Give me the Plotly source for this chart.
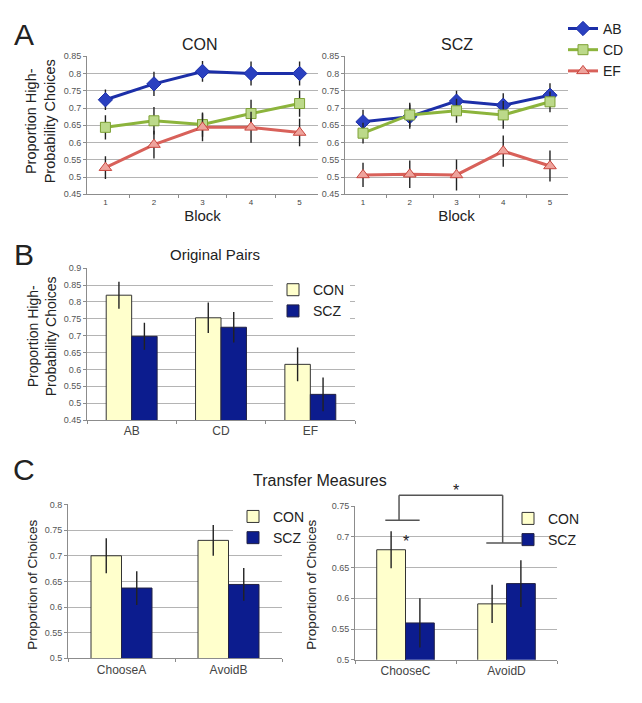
"""Learning curves and transfer measures, CON vs SCZ (three-panel figure)."""

import plotly.graph_objects as go

W, H = 642, 703

# ---- data -------------------------------------------------------------
blocks = ["1", "2", "3", "4", "5"]

con_ab = [0.724, 0.770, 0.806, 0.800, 0.800]
con_cd = [0.644, 0.663, 0.652, 0.684, 0.713]
con_ef = [0.527, 0.594, 0.644, 0.644, 0.629]
con_ab_err = [0.030, 0.035, 0.030, 0.035, 0.035]
con_cd_err = [0.035, 0.040, 0.035, 0.040, 0.038]
con_ef_err = [0.033, 0.040, 0.040, 0.045, 0.040]

scz_ab = [0.660, 0.675, 0.720, 0.708, 0.737]
scz_cd = [0.627, 0.680, 0.692, 0.680, 0.718]
scz_ef = [0.506, 0.508, 0.506, 0.575, 0.532]
scz_ab_err = [0.035, 0.035, 0.030, 0.035, 0.035]
scz_cd_err = [0.030, 0.035, 0.035, 0.040, 0.030]
scz_ef_err = [0.035, 0.040, 0.045, 0.045, 0.045]

pairs = ["AB", "CD", "EF"]
pairs_con = [0.820, 0.753, 0.615]
pairs_scz = [0.698, 0.725, 0.526]
pairs_con_err = [0.040, 0.045, 0.050]
pairs_scz_err = [0.040, 0.045, 0.050]

transfer_a = ["ChooseA", "AvoidB"]
transfer_a_con = [0.700, 0.730]
transfer_a_scz = [0.637, 0.644]
transfer_a_con_err = [0.034, 0.030]
transfer_a_scz_err = [0.033, 0.032]

transfer_c = ["ChooseC", "AvoidD"]
transfer_c_con = [0.679, 0.591]
transfer_c_scz = [0.560, 0.624]
transfer_c_con_err = [0.030, 0.031]
transfer_c_scz_err = [0.040, 0.038]

ticks_a = [0.45, 0.5, 0.55, 0.6, 0.65, 0.7, 0.75, 0.8, 0.85]
ticks_b = [0.45, 0.5, 0.55, 0.6, 0.65, 0.7, 0.75, 0.8, 0.85, 0.9]
ticks_c1 = [0.5, 0.55, 0.6, 0.65, 0.7, 0.75, 0.8]
ticks_c2 = [0.5, 0.55, 0.6, 0.65, 0.7, 0.75]

# ---- style -------------------------------------------------------------
FONT = "Liberation Sans, Arial, sans-serif"
BLUE = "#1c2fa8"
GREEN = "#8cb43c"
RED = "#d8615a"
CON_FILL = "#ffffcc"
SCZ_FILL = "#0c1c8e"
GRID = "#b4b4b4"
AXIS = "#8c8c8c"


def px_x(x0, x1):
    return [x0 / W, x1 / W]


def px_y(y0, y1):
    # y0 = top pixel, y1 = bottom pixel
    return [1 - y1 / H, 1 - y0 / H]


def err(vals):
    return dict(type="data", array=vals, visible=True, color="#222222",
                thickness=1.4, width=0)


fig = go.Figure()

# panel A lines
line_sets = [
    ("AB", con_ab, con_ab_err, scz_ab, scz_ab_err, BLUE,
     dict(symbol="diamond", size=11, color="#2a40c0", line=dict(color=BLUE, width=1))),
    ("CD", con_cd, con_cd_err, scz_cd, scz_cd_err, GREEN,
     dict(symbol="square", size=10, color="#bcd98a", line=dict(color="#7ea236", width=1))),
    ("EF", con_ef, con_ef_err, scz_ef, scz_ef_err, RED,
     dict(symbol="triangle-up", size=11, color="#eea39c", line=dict(color="#c9473f", width=1))),
]
for name, cv, ce, sv, se, col, mk in line_sets:
    fig.add_trace(go.Scatter(x=blocks, y=cv, error_y=err(ce), name=name,
                             mode="lines+markers", line=dict(color=col, width=3),
                             marker=mk, xaxis="x", yaxis="y", legend="legend",
                             showlegend=True))
    fig.add_trace(go.Scatter(x=blocks, y=sv, error_y=err(se), name=name,
                             mode="lines+markers", line=dict(color=col, width=3),
                             marker=mk, xaxis="x2", yaxis="y2", showlegend=False))

# bar panels
bar_sets = [
    (pairs, pairs_con, pairs_con_err, pairs_scz, pairs_scz_err, "x3", "y3", "legend2"),
    (transfer_a, transfer_a_con, transfer_a_con_err, transfer_a_scz, transfer_a_scz_err,
     "x4", "y4", "legend3"),
    (transfer_c, transfer_c_con, transfer_c_con_err, transfer_c_scz, transfer_c_scz_err,
     "x5", "y5", "legend4"),
]
for cats, cv, ce, sv, se, xa, ya, lg in bar_sets:
    fig.add_trace(go.Bar(x=cats, y=cv, error_y=err(ce), name="CON",
                         marker=dict(color=CON_FILL, line=dict(color="#333333", width=1)),
                         xaxis=xa, yaxis=ya, legend=lg))
    fig.add_trace(go.Bar(x=cats, y=sv, error_y=err(se), name="SCZ",
                         marker=dict(color=SCZ_FILL, line=dict(color="#222244", width=1)),
                         xaxis=xa, yaxis=ya, legend=lg))


def yax(domain, rng, ticks, anchor):
    return dict(domain=domain, range=rng, tickvals=ticks, ticktext=[f"{t:g}" for t in ticks],
                showgrid=True, gridcolor=GRID, gridwidth=1, showline=True, linecolor=AXIS,
                ticks="outside", ticklen=3, tickcolor=AXIS, zeroline=False,
                tickfont=dict(size=9, color="#555555"), anchor=anchor, fixedrange=True)


def xax(domain, anchor, size):
    return dict(domain=domain, anchor=anchor, type="category", showgrid=False,
                showline=True, linecolor=AXIS, ticks="outside", ticklen=3, tickcolor=AXIS,
                tickson="boundaries", tickfont=dict(size=size, color="#444444"),
                fixedrange=True)


leg_font = dict(family=FONT, size=14, color="#222222")
bar_leg_font = dict(family=FONT, size=14, color="#222222")

fig.update_layout(
    width=W, height=H,
    margin=dict(l=0, r=0, t=0, b=0),
    paper_bgcolor="white", plot_bgcolor="white",
    font=dict(family=FONT, color="#222222"),
    barmode="group", bargap=0.43, bargroupgap=0,
    xaxis=dict(xax(px_x(87, 318), "y", 8),
               title=dict(text="Block", font=dict(size=15), standoff=0)),
    yaxis=yax(px_y(52, 192), [0.45, 0.85], ticks_a, "x"),
    xaxis2=dict(xax(px_x(345, 568), "y2", 8),
                title=dict(text="Block", font=dict(size=15), standoff=0)),
    yaxis2=yax(px_y(52, 192), [0.45, 0.85], ticks_a, "x2"),
    xaxis3=xax(px_x(87, 355), "y3", 12),
    yaxis3=yax(px_y(267, 421), [0.45, 0.9], ticks_b, "x3"),
    xaxis4=xax(px_x(68, 282), "y4", 12),
    yaxis4=yax(px_y(506.7, 662.7), [0.5, 0.8], ticks_c1, "x4"),
    xaxis5=xax(px_x(355, 557), "y5", 12),
    yaxis5=yax(px_y(508.3, 664.3), [0.5, 0.75], ticks_c2, "x5"),
    legend=dict(x=563 / W, y=1 - 8 / H, xanchor="left", yanchor="top",
                font=leg_font, bgcolor="rgba(0,0,0,0)", itemwidth=30,
                tracegroupgap=0),
    legend2=dict(x=273 / W, y=1 - 273 / H, xanchor="left", yanchor="top",
                 font=bar_leg_font, bgcolor="white", itemwidth=30, tracegroupgap=0),
    legend3=dict(x=233 / W, y=1 - 503 / H, xanchor="left", yanchor="top",
                 font=bar_leg_font, bgcolor="white", itemwidth=30, tracegroupgap=0),
    legend4=dict(x=508 / W, y=1 - 505 / H, xanchor="left", yanchor="top",
                 font=bar_leg_font, bgcolor="rgba(0,0,0,0)", itemwidth=30,
                 tracegroupgap=0),
)

# titles, panel letters, axis titles
texts = [
    ("A", 24, 30, 30, 0), ("B", 24, 253, 30, 0), ("C", 24, 471, 30, 0),
    ("CON", 200, 40, 16, 0), ("SCZ", 457, 40, 16, 0),
    ("Original Pairs", 215, 253, 15, 0), ("Transfer Measures", 320, 482, 16, 0),
    ("Proportion High-<br>Probability Choices", 40, 118, 14.5, -90),
    ("Proportion High-<br>Probability Choices", 42, 336, 14, -90),
    ("Proportion of Choices", 33, 588, 13.5, -90),
    ("Proportion of Choices", 312, 588, 13.5, -90),
]
for t, x, y, s, ang in texts:
    fig.add_annotation(text=t, x=x / W, y=1 - y / H, xref="paper", yref="paper",
                       showarrow=False, textangle=ang, font=dict(size=s, color="#222222"),
                       xanchor="center", yanchor="middle")

# significance bracket on the right transfer panel (x in category units, y in pixels)
bracket = dict(color="#555555", width=1.5)
for x0, y0, x1, y1 in [
    (-0.2, 522.7, 0.14, 522.7),
    (-0.064, 522.7, -0.064, 497.3),
    (-0.064, 497.3, 0.962, 497.3),
    (0.962, 497.3, 0.962, 545.7),
    (0.80, 545.7, 1.15, 545.7),
]:
    fig.add_shape(type="line", xref="x5", yref="paper", x0=x0, y0=1 - y0 / H,
                  x1=x1, y1=1 - y1 / H, line=bracket)
for x, y in [(0.5, 503), (0.0, 555)]:
    fig.add_annotation(text="*", x=x, y=1 - y / H, xref="x5", yref="paper",
                       showarrow=False, font=dict(size=16, color="#222222"))

fig.write_html("out.html", config={"displayModeBar": False},
               post_script="document.body.style.margin='0';")
